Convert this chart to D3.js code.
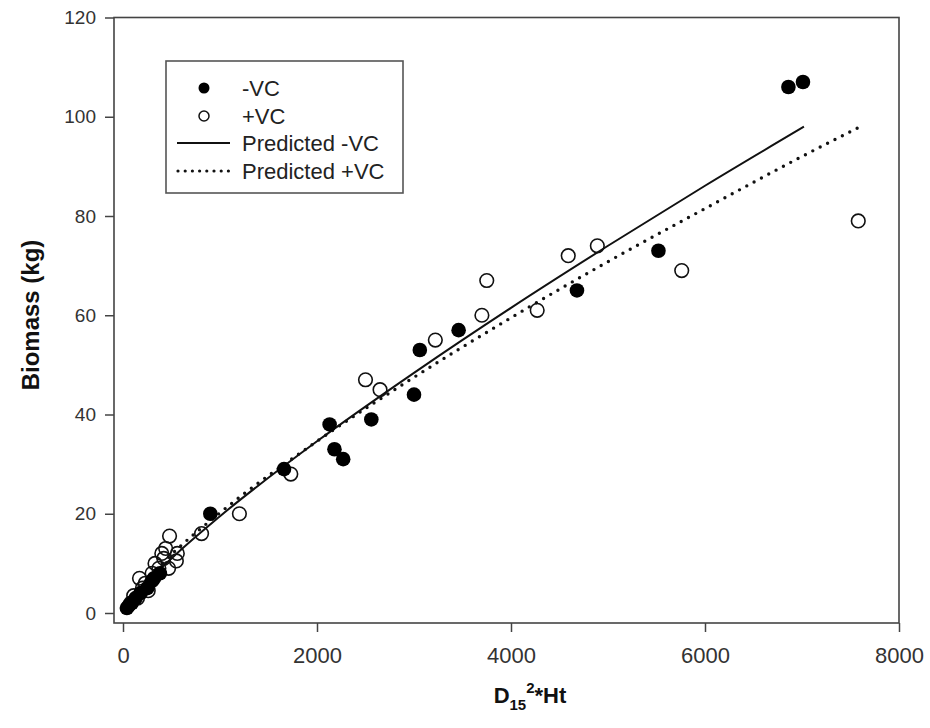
<!DOCTYPE html>
<html><head><meta charset="utf-8">
<script src="https://cdn.jsdelivr.net/npm/d3@7"></script>
<style>
html,body{margin:0;padding:0;background:#fff;}
svg{display:block;font-family:Arial,"Liberation Sans",sans-serif;}
</style></head>
<body><svg id="c" width="930" height="728"></svg>
<script>
// -VC observed (D15^2*Ht, biomass kg)
const minusVC_x = [40,60,90,130,180,250,300,320,380,900,1660,2130,2180,2270,2560,3000,3060,3460,4680,5520,6860,7010];
const minusVC_y = [1,1.5,2,3,4,5,6.5,7,8,20,29,38,33,31,39,44,53,57,65,73,106,107];
// +VC observed
const plusVC_x = [80,110,150,170,200,230,260,300,330,370,400,420,440,480,470,550,560,810,1200,1730,2500,2650,3220,3700,3750,4270,4590,4890,5760,7580];
const plusVC_y = [2,3.5,3,7,5,6,4.5,8,10,9,12,11,13,15.5,9,10.5,12,16,20,28,47,45,55,60,67,61,72,74,69,79];
// Predicted curves
const predMinus_x = [40,250,500,1000,2000,3000,4000,5000,6000,7020];
const predMinus_y = [1.4,6.2,11.0,19.5,34.6,48.4,61.5,74.0,86.1,98.0];
const predPlus_x = [70,250,500,1000,2000,3000,4000,5000,6000,7000,7580];
const predPlus_y = [2.5,6.9,11.8,20.2,34.6,47.5,59.5,70.8,81.5,92.0,97.8];
// Axis ticks
const xTicks = [0,2000,4000,6000,8000];
const yTicks = [0,20,40,60,80,100,120];
const legendLabels = ["-VC","+VC","Predicted -VC","Predicted +VC"];

const svg = d3.select("#c");
const x = d3.scaleLinear().domain([0,8000]).range([123,899]);
const y = d3.scaleLinear().domain([0,120]).range([613,17.5]);
const frame = {l:114, t:17.5, r:899, b:623};

// frame
svg.append("rect").attr("x",frame.l).attr("y",frame.t)
  .attr("width",frame.r-frame.l).attr("height",frame.b-frame.t)
  .attr("fill","none").attr("stroke","#444").attr("stroke-width",1.6);

// axes
const gx = svg.append("g").attr("transform",`translate(0,${frame.b})`)
  .call(d3.axisBottom(x).tickValues(xTicks).tickFormat(d3.format("d")).tickSize(9).tickPadding(15));
gx.select(".domain").remove();
gx.selectAll("line").attr("stroke","#444").attr("stroke-width",1.5);
gx.selectAll("text").attr("font-size",22).attr("fill","#333").attr("font-family","Arial,'Liberation Sans',sans-serif");

const gy = svg.append("g").attr("transform",`translate(${frame.l},0)`)
  .call(d3.axisLeft(y).tickValues(yTicks).tickFormat(d3.format("d")).tickSize(9).tickPadding(9));
gy.select(".domain").remove();
gy.selectAll("line").attr("stroke","#444").attr("stroke-width",1.5);
gy.selectAll("text").attr("font-size",19).attr("fill","#333").attr("font-family","Arial,'Liberation Sans',sans-serif");

// titles
svg.append("text").attr("transform","translate(39,315) rotate(-90)")
  .attr("text-anchor","middle").attr("font-size",24).attr("font-weight","bold").attr("fill","#111")
  .text("Biomass (kg)");
const xt = svg.append("text").attr("x",530).attr("y",703).attr("text-anchor","middle")
  .attr("font-size",22).attr("font-weight","bold").attr("fill","#111");
xt.append("tspan").text("D");
xt.append("tspan").attr("dy",7).attr("font-size",15).text("15");
xt.append("tspan").attr("dy",-17).attr("font-size",15).text("2");
xt.append("tspan").attr("dy",10).text("*Ht");

// predicted lines
const line = d3.line().x(d=>x(d[0])).y(d=>y(d[1])).curve(d3.curveMonotoneX);
svg.append("path").datum(d3.zip(predMinus_x,predMinus_y)).attr("d",line)
  .attr("fill","none").attr("stroke","#111").attr("stroke-width",2);
svg.append("path").datum(d3.zip(predPlus_x,predPlus_y)).attr("d",line)
  .attr("fill","none").attr("stroke","#111").attr("stroke-width",3.4)
  .attr("stroke-dasharray","0 8.3").attr("stroke-linecap","round");

// points
svg.append("g").selectAll("circle").data(d3.zip(plusVC_x,plusVC_y)).join("circle")
  .attr("cx",d=>x(d[0])).attr("cy",d=>y(d[1])).attr("r",6.8)
  .attr("fill","none").attr("stroke","#111").attr("stroke-width",1.6);
svg.append("g").selectAll("circle").data(d3.zip(minusVC_x,minusVC_y)).join("circle")
  .attr("cx",d=>x(d[0])).attr("cy",d=>y(d[1])).attr("r",7.3)
  .attr("fill","#000");

// legend
const lg = svg.append("g");
lg.append("rect").attr("x",166).attr("y",61).attr("width",237).attr("height",132)
  .attr("fill","#fff").attr("stroke","#555").attr("stroke-width",1.6);
const ly = [88,116,143,171];
lg.append("circle").attr("cx",204).attr("cy",ly[0]).attr("r",5.5).attr("fill","#000");
lg.append("circle").attr("cx",204).attr("cy",ly[1]).attr("r",5).attr("fill","none").attr("stroke","#111").attr("stroke-width",1.5);
lg.append("line").attr("x1",177).attr("x2",230).attr("y1",ly[2]).attr("y2",ly[2]).attr("stroke","#111").attr("stroke-width",2);
lg.append("line").attr("x1",178).attr("x2",229).attr("y1",ly[3]).attr("y2",ly[3]).attr("stroke","#111").attr("stroke-width",3.2)
  .attr("stroke-dasharray","0 7.2").attr("stroke-linecap","round");
lg.selectAll("text.l").data(legendLabels).join("text").attr("class","l")
  .attr("x",242).attr("y",(d,i)=>ly[i]).attr("dy","0.36em")
  .attr("font-size",22).attr("fill","#222").text(d=>d);
</script></body></html>
